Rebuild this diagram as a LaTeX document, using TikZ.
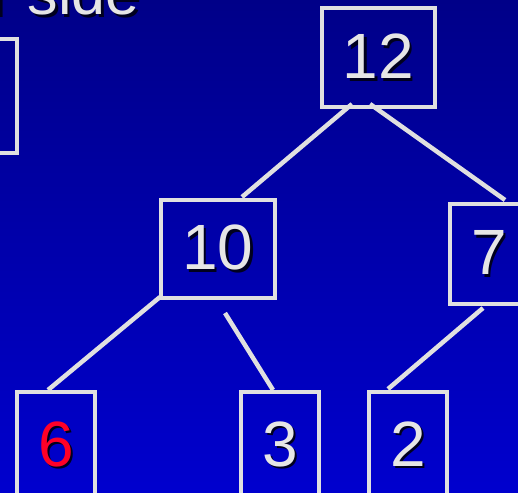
\documentclass[tikz,border=0pt]{standalone}
\usepackage{fontspec}
\setmainfont{Liberation Sans}
\usetikzlibrary{calc}
\definecolor{bgtop}{RGB}{0,0,136}
\definecolor{bgbot}{RGB}{0,0,206}
\definecolor{edge}{RGB}{224,224,224}
\definecolor{txt}{RGB}{230,230,230}
\definecolor{hot}{RGB}{255,0,40}
\definecolor{shd}{RGB}{0,0,30}
\newcommand\shadowed[2]{\leavevmode\rlap{\kern2.5pt\raisebox{-2.5pt}{\color{shd}#2}}\textcolor{#1}{#2}}
\begin{document}
\begin{tikzpicture}[x=1pt,y=-1pt,
  keybox/.style={draw=edge,line width=4pt,inner sep=0pt,minimum width=#1,minimum height=99pt,font=\fontsize{64}{64}\selectfont},
  link/.style={draw=edge,line width=4.5pt}]
\useasboundingbox (0,0) rectangle (518,492);
\clip (0,0) rectangle (518,492);
\shade[top color=bgtop,bottom color=bgbot] (0,0) rectangle (518,492);
% partial title and box at the left edge
\node[anchor=base east,inner sep=0pt,font=\fontsize{61}{61}\selectfont] (title) at (140,15) {\shadowed{txt}{r side}};
\node[keybox=112pt,minimum height=114pt] (left) at (-39,96) {};
% tree nodes
\node[keybox=113pt] (n12) at (378.5,57.5) {\shadowed{txt}{12}};
\node[keybox=114pt,minimum height=98pt] (n10) at (218,249) {\shadowed{txt}{10}};
\node[keybox=78pt,minimum height=100pt] (n7) at (489,254) {\shadowed{txt}{7}};
\node[keybox=78pt,minimum height=108pt] (n6) at (56,446) {\raisebox{4pt}{\shadowed{hot}{6}}};
\node[keybox=78pt,minimum height=108pt] (n3) at (280,446) {\raisebox{4pt}{\shadowed{txt}{3}}};
\node[keybox=78pt,minimum height=108pt] (n2) at (408,446) {\raisebox{4pt}{\shadowed{txt}{2}}};
% connectors
\draw[link] ($(n12)+(-26.5,46.5)$) -- ($(n10)+(24,-52)$);
\draw[link] ($(n12)+(-8.5,46.5)$) -- ($(n7)+(16,-54)$);
\draw[link] ($(n10)+(-58,48)$) -- ($(n6)+(-8,-56)$);
\draw[link] ($(n10)+(7,64)$) -- ($(n3)+(-7,-56)$);
\draw[link] ($(n7)+(-6,54)$) -- ($(n2)+(-20,-57)$);
\end{tikzpicture}
\end{document}
